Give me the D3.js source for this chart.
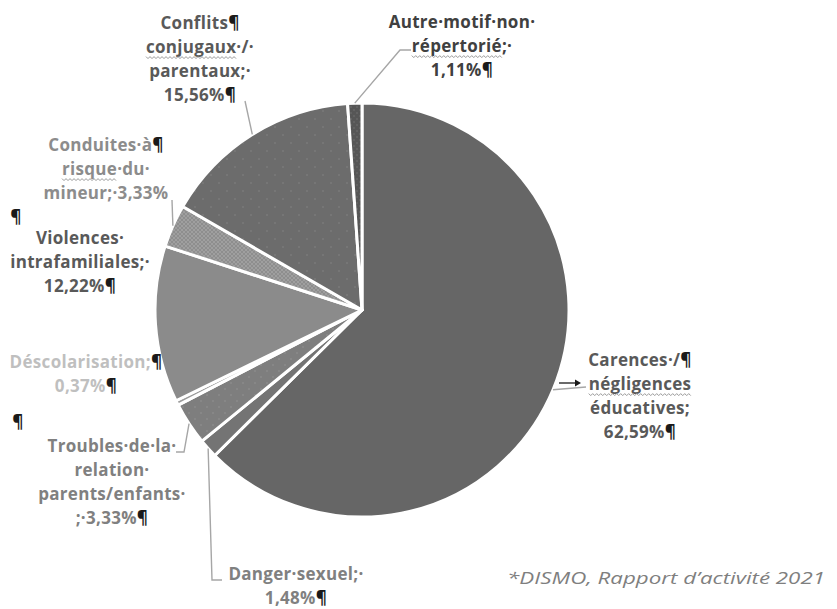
<!DOCTYPE html>
<html lang="fr">
<head>
<meta charset="utf-8">
<script src="https://cdn.jsdelivr.net/npm/d3@7"></script>
<style>
  html, body { margin: 0; padding: 0; background: #ffffff; }
  svg { display: block; }
  .lbl { font-family: "Open Sans", "Noto Sans", sans-serif; font-weight: 700; font-size: 17px; letter-spacing: 0.3px; }
  .note { font-family: "Open Sans", "Noto Sans", sans-serif; font-style: italic; font-size: 17px; }
</style>
</head>
<body>
<svg id="chart" width="837" height="609"></svg>
<script>
// Motifs de signalement (répartition en %), dans l'ordre horaire depuis midi
const categories = [
  "Carences / négligences éducatives",
  "Danger sexuel",
  "Troubles de la relation parents/enfants",
  "Déscolarisation",
  "Violences intrafamiliales",
  "Conduites à risque du mineur",
  "Conflits conjugaux / parentaux",
  "Autre motif non répertorié"
];
const values = [62.59, 1.48, 3.33, 0.37, 12.22, 3.33, 15.56, 1.11];

// Étiquettes telles qu'affichées (marques de mise en forme comprises)
const labelLines = [
  ["Carences·/¶", "négligences", "éducatives;", "62,59%¶"],
  ["Danger·sexuel;·", "1,48%¶"],
  ["Troubles·de·la·", "relation·", "parents/enfants·", ";·3,33%¶"],
  ["Déscolarisation;¶", "0,37%¶"],
  ["Violences·", "intrafamiliales;·", "12,22%¶"],
  ["Conduites·à¶", "risque·du·", "mineur;·3,33%"],
  ["Conflits¶", "conjugaux·/·", "parentaux;·", "15,56%¶"],
  ["Autre·motif·non·", "répertorié;·", "1,11%¶"]
];
const strayMarks = ["¶", "¶"];
const flaggedWords = ["conjugaux", "répertorié", "risque", "négligences"];
const sourceNote = "*DISMO, Rapport d’activité 2021";

// ---- mise en page ----
const svg = d3.select("#chart");
const cx = 362, cy = 310, R = 207;

const fills = ["#666666", "#747474", "url(#dotsLight)", "#9c9c9c", "#8b8b8b", "url(#hatch)", "url(#dotsDark)", "url(#dotsDeep)"];
const textColors = ["#595959", "#808080", "#808080", "#bfbfbf", "#595959", "#8c8c8c", "#595959", "#404040"];

// position des blocs d'étiquettes : centre x, ligne de base de la 1re ligne
const labelPos = [
  {x: 640, y: 366}, {x: 296, y: 580}, {x: 112, y: 452}, {x: 86, y: 368},
  {x: 80, y: 244}, {x: 106, y: 151}, {x: 200, y: 29}, {x: 462, y: 28}
];
const lineH = 24;
const strayPos = [{x: 16, y: 223}, {x: 18, y: 428}];

// tracés des traits de rappel : points après le bord du secteur
const leaderEnds = {
  0: [[586, 387]],
  1: [[212, 580], [222, 580]],
  2: [[184, 452], [176, 452]],
  5: [[172, 200]],
  6: [[245, 101]],
  7: [[400, 50], [411, 50]]
};

const defs = svg.append("defs");
function dotPattern(id, bg, dot, step) {
  const p = defs.append("pattern").attr("id", id).attr("patternUnits", "userSpaceOnUse")
    .attr("width", step).attr("height", step);
  p.append("rect").attr("width", step).attr("height", step).attr("fill", bg);
  p.append("circle").attr("cx", 1).attr("cy", 1).attr("r", 0.8).attr("fill", dot);
  p.append("circle").attr("cx", step / 2 + 1).attr("cy", step / 2 + 1).attr("r", 0.8).attr("fill", dot);
}
dotPattern("dotsDark", "#6c6c6c", "#828282", 16);
dotPattern("dotsLight", "#7e7e7e", "#939393", 12);
dotPattern("dotsDeep", "#565656", "#707070", 6);
const hp = defs.append("pattern").attr("id", "hatch").attr("patternUnits", "userSpaceOnUse")
  .attr("width", 4).attr("height", 4);
hp.append("rect").attr("width", 4).attr("height", 4).attr("fill", "#8e8e8e");
hp.append("path").attr("d", "M0,0 L4,4 M4,0 L0,4").attr("stroke", "#a3a3a3").attr("stroke-width", 0.8);

const pie = d3.pie().sort(null).value(d => d).startAngle(0).endAngle(2 * Math.PI);
const arcs = pie(values);
const arc = d3.arc().innerRadius(0).outerRadius(R);

const g = svg.append("g").attr("transform", `translate(${cx},${cy})`);
g.selectAll("path.slice").data(arcs).join("path")
  .attr("class", "slice")
  .attr("d", arc)
  .attr("fill", (d, i) => fills[i])
  .attr("stroke", "#ffffff")
  .attr("stroke-width", 3)
  .attr("stroke-linejoin", "round");

// traits de rappel
const edgeArc = d3.arc().innerRadius(R).outerRadius(R);
Object.keys(leaderEnds).forEach(k => {
  const i = +k;
  const c = edgeArc.centroid(arcs[i]);
  const pts = [[cx + c[0], cy + c[1]]].concat(leaderEnds[k]);
  svg.append("path")
    .attr("d", d3.line()(pts))
    .attr("fill", "none")
    .attr("stroke", "#a6a6a6")
    .attr("stroke-width", 1.4);
});

// flèche de tabulation devant « négligences »
svg.append("path").attr("d", "M559,383 L577,383").attr("stroke", "#1a1a1a").attr("stroke-width", 1.3);
svg.append("path").attr("d", "M581,383 L575,379.5 L575,386.5 Z").attr("fill", "#1a1a1a");

// étiquettes
function addLine(parent, str, x, y, color) {
  const t = parent.append("text").attr("class", "lbl").attr("x", x).attr("y", y)
    .attr("text-anchor", "middle").attr("fill", color);
  const parts = str.split(/(¶)/);
  parts.forEach(p => {
    if (!p) return;
    t.append("tspan").text(p).attr("fill", p === "¶" ? "#1a1a1a" : color);
  });
  return t;
}

function squiggle(x0, x1, y) {
  const pts = [];
  for (let x = x0, k = 0; x <= x1; x += 2, k++) pts.push([x, y + (k % 2 ? 1.6 : -0.4)]);
  return d3.line()(pts);
}

labelLines.forEach((lines, i) => {
  const lg = svg.append("g");
  lines.forEach((s, j) => {
    const y = labelPos[i].y + j * lineH;
    const t = addLine(lg, s, labelPos[i].x, y, textColors[i]);
    const w = flaggedWords.find(f => s.startsWith(f));
    if (w) {
      const node = t.node();
      const x0 = node.getStartPositionOfChar(0).x;
      const x1 = node.getEndPositionOfChar(w.length - 1).x;
      lg.append("path").attr("d", squiggle(x0, x1, y + 4))
        .attr("fill", "none").attr("stroke", "#9a9a9a").attr("stroke-width", 1);
    }
  });
});

strayMarks.forEach((m, i) => {
  svg.append("text").attr("class", "lbl").attr("x", strayPos[i].x).attr("y", strayPos[i].y)
    .attr("text-anchor", "middle").attr("fill", "#1a1a1a").text(m);
});

svg.append("text").attr("class", "note")
  .attr("x", 507).attr("y", 584)
  .attr("fill", "#7f7f7f")
  .attr("textLength", 318).attr("lengthAdjust", "spacingAndGlyphs")
  .text(sourceNote);
</script>
</body>
</html>
